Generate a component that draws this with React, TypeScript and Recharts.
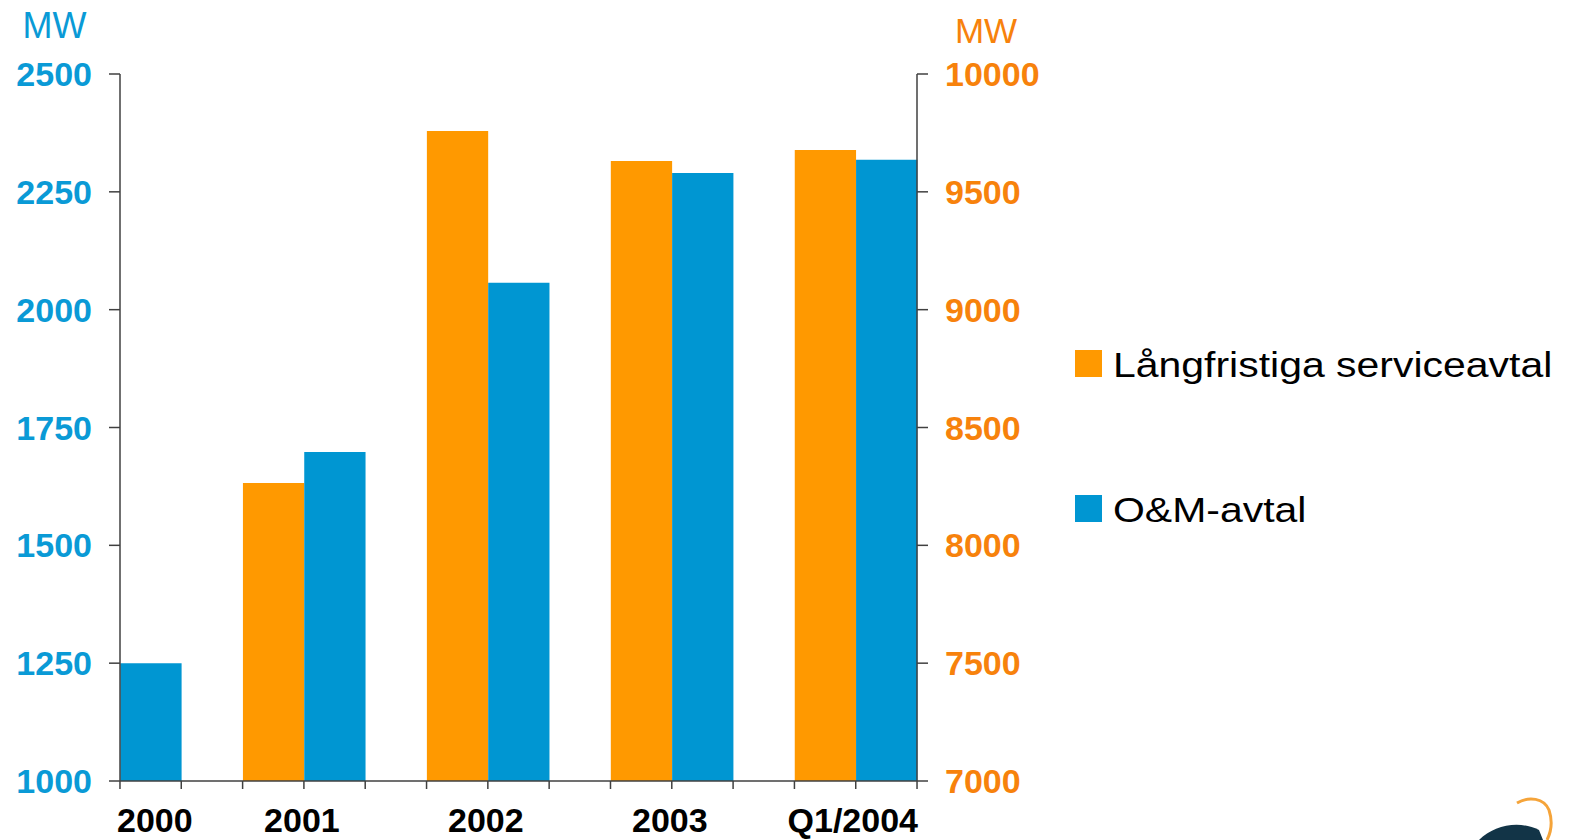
import { BarChart, Bar, XAxis, YAxis, Legend } from "recharts";

const categories = ["2000", "2001", "2002", "2003", "Q1/2004"];
const langfristiga = [null, 8264, 9758, 9631, 9677];
const omAvtal = [1250, 1698, 2057, 2290, 2318];
const leftTicks = [1000, 1250, 1500, 1750, 2000, 2250, 2500];
const rightTicks = [7000, 7500, 8000, 8500, 9000, 9500, 10000];

const ORANGE = "#FF9900";
const BLUE = "#0096D2";
const BLUE_TXT = "#0A9AD6";
const ORANGE_TXT = "#F7820C";
const AXIS = "#404040";
const FONT = "'Liberation Sans', Arial, sans-serif";

const W = 1569;
const H = 840;
const PLOT_LEFT = 120;
const PLOT_RIGHT = 917;
const BAR = 61.3;

const data = categories.map((name, i) => ({
  name,
  lang: langfristiga[i],
  om: omAvtal[i],
}));

function XTick(props: any) {
  const { x, y, payload, index } = props;
  const marks = [x - BAR, x, x + BAR].filter(
    (m) => m >= PLOT_LEFT - 0.5 && m <= PLOT_RIGHT + 0.5
  );
  let tx = x - 2;
  let anchor = "middle";
  if (index === 0) {
    tx = PLOT_LEFT - 3;
    anchor = "start";
  } else if (index === categories.length - 1) {
    tx = PLOT_RIGHT + 1;
    anchor = "end";
  }
  return (
    <g>
      {marks.map((m, i) => (
        <line key={i} x1={m} x2={m} y1={y} y2={y + 8} stroke={AXIS} strokeWidth={1.5} />
      ))}
      <text x={tx} y={y + 51} textAnchor={anchor} fontFamily={FONT} fontWeight="bold" fontSize={34} fill="#000">
        {payload.value}
      </text>
    </g>
  );
}

function LegendBox() {
  const items = [
    { label: "Långfristiga serviceavtal", color: ORANGE },
    { label: "O&M-avtal", color: BLUE },
  ];
  return (
    <div style={{ fontFamily: FONT, position: "relative" }}>
      {items.map((it, i) => (
        <div key={it.label} style={{ position: "absolute", left: 0, top: i * 145, width: 490, height: 30 }}>
          <div style={{ position: "absolute", left: 0, top: 0, width: 27, height: 27, background: it.color }} />
          <span
            style={{
              position: "absolute",
              left: 38,
              top: -5,
              fontSize: 35,
              lineHeight: "40px",
              color: "#000",
              whiteSpace: "nowrap",
              transform: "scaleX(1.17)",
              transformOrigin: "left center",
            }}
          >
            {it.label}
          </span>
        </div>
      ))}
    </div>
  );
}

export default function App() {
  return (
    <div style={{ position: "absolute", left: 0, top: 0, width: W, height: H, background: "#fff" }}>
      <BarChart
        width={W}
        height={H}
        data={data}
        margin={{ top: 74, right: W - PLOT_RIGHT - 120, bottom: 0, left: 20 }}
        barGap={0}
        barSize={BAR}
      >
        <XAxis
          dataKey="name"
          padding={{ left: -92, right: -30.7 }}
          height={59}
          tickLine={false}
          tickSize={0}
          tickMargin={0}
          axisLine={{ stroke: AXIS, strokeWidth: 1.5 }}
          tick={<XTick />}
          interval={0}
        />
        <YAxis
          yAxisId="left"
          orientation="left"
          width={100}
          domain={[1000, 2500]}
          ticks={leftTicks}
          interval={0}
          tickSize={11}
          tickMargin={17}
          axisLine={{ stroke: AXIS, strokeWidth: 1.5 }}
          tickLine={{ stroke: AXIS, strokeWidth: 1.5 }}
          tick={{ fill: BLUE_TXT, fontSize: 34, fontWeight: "bold", fontFamily: FONT }}
          label={{
            value: "MW",
            content: (p: any) => (
              <text x={p.viewBox.x + 34.5} y={p.viewBox.y - 36} textAnchor="middle" fontFamily={FONT} fontSize={36} fill={BLUE_TXT}>
                MW
              </text>
            ),
          }}
        />
        <YAxis
          yAxisId="right"
          orientation="right"
          width={120}
          domain={[7000, 10000]}
          ticks={rightTicks}
          interval={0}
          tickSize={11}
          tickMargin={17}
          axisLine={{ stroke: AXIS, strokeWidth: 1.5 }}
          tickLine={{ stroke: AXIS, strokeWidth: 1.5 }}
          tick={{ fill: ORANGE_TXT, fontSize: 34, fontWeight: "bold", fontFamily: FONT }}
          label={{
            value: "MW",
            content: (p: any) => (
              <text x={p.viewBox.x + 69} y={p.viewBox.y - 31} textAnchor="middle" fontFamily={FONT} fontSize={35} fill={ORANGE_TXT}>
                MW
              </text>
            ),
          }}
        />
        <Legend
          layout="vertical"
          align="center"
          verticalAlign="middle"
          content={<LegendBox />}
          wrapperStyle={{ position: "absolute", left: 1075, top: 350, width: 490, height: 200 }}
        />
        <Bar yAxisId="right" dataKey="lang" name="Långfristiga serviceavtal" fill={ORANGE} isAnimationActive={false} />
        <Bar yAxisId="left" dataKey="om" name="O&M-avtal" fill={BLUE} isAnimationActive={false} />
      </BarChart>
      <svg width={110} height={60} style={{ position: "absolute", left: 1459, top: 780 }}>
        <path d="M 58 23 C 70 16, 85 18, 90 30 C 94 42, 92 52, 88 60" stroke="#F5A43A" strokeWidth={3} fill="none" />
        <path d="M 20 60 C 35 45, 60 40, 80 50 L 84 60 Z" fill="#123447" />
      </svg>
    </div>
  );
}
